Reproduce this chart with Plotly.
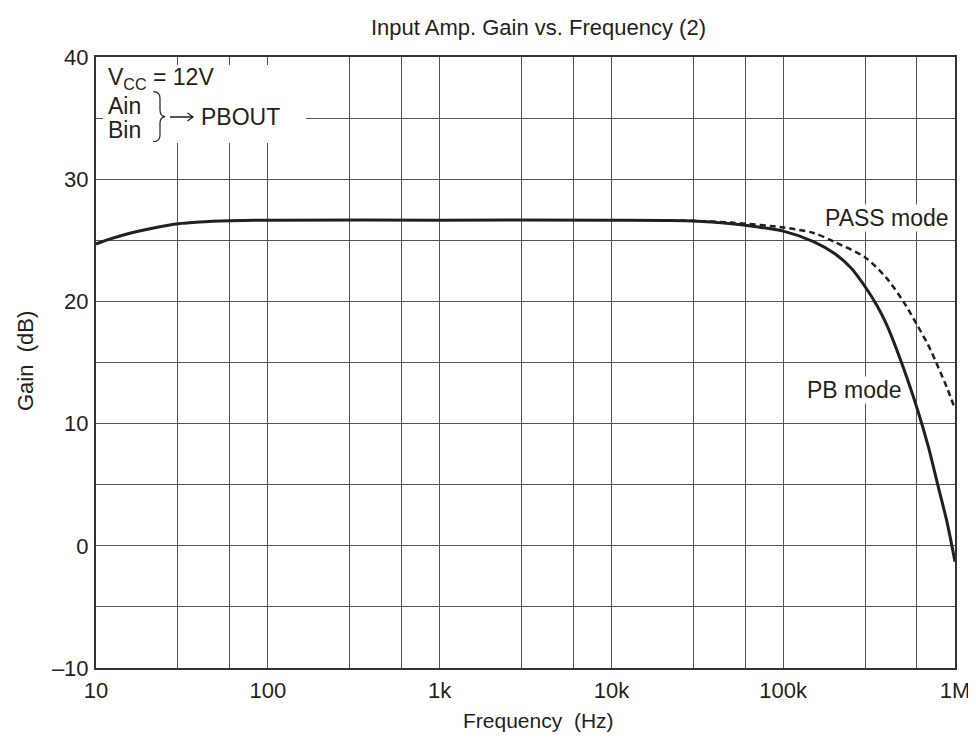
import plotly.graph_objects as go

# ---- data ----
freq_pb = [10, 12, 15, 20, 30, 40, 60, 100, 1000, 10000, 20000, 30000, 50000, 70000,
           100000, 150000, 200000, 250000, 300000, 350000, 400000, 500000, 600000,
           700000, 800000, 900000, 1000000]
gain_pb = [24.7, 25.1, 25.5, 25.9, 26.35, 26.5, 26.6, 26.65, 26.65, 26.65, 26.62, 26.58,
           26.35, 26.1, 25.75, 24.9, 23.9, 22.7, 21.2, 19.7, 18.1, 14.6, 11.3,
           8.1, 4.8, 1.9, -1.3]

freq_pass = [25000, 50000, 100000, 150000, 200000, 300000, 400000, 500000, 600000,
             700000, 800000, 900000, 1000000]
gain_pass = [26.62, 26.45, 26.05, 25.6, 24.85, 23.6, 21.9, 20.0, 18.1, 16.4, 14.6,
             12.9, 11.2]

x_tickvals = [10, 100, 1e3, 1e4, 1e5, 1e6]
x_ticktext = ["10", "100", "1k", "10k", "100k", "1M"]
x_minorvals = [30, 60, 300, 600, 3e3, 6e3, 3e4, 6e4, 3e5, 6e5]
y_tickvals = [-10, 0, 10, 20, 30, 40]
y_ticktext = ["\u201310", "0", "10", "20", "30", "40"]
y_minorvals = [-5, 5, 15, 25, 35]

# ---- layout geometry (page has an 8px body margin) ----
OFF = 8
W, H = 976 - OFF, 742 - 2 * OFF
PL, PR, PT, PB_ = 96, 955, 57, 668          # plot box in screen pixels
L, R, T, B = PL - OFF, OFF + W - PR, PT - OFF, OFF + H - PB_
PW, PH = PR - PL, PB_ - PT

def dx(px):
    return (px - PL) / PW

def dy(py):
    return (PB_ - py) / PH

INK = "#231f20"
GRID = "#555555"
FONT = "Liberation Sans, Arial, Helvetica, sans-serif"

fig = go.Figure()
fig.add_trace(go.Scatter(x=freq_pass, y=gain_pass, mode="lines",
                         line=dict(color=INK, width=2.5, dash="6px,4px", shape="spline", smoothing=0.8),
                         name="PASS mode", hoverinfo="skip"))
fig.add_trace(go.Scatter(x=freq_pb, y=gain_pb, mode="lines",
                         line=dict(color=INK, width=3, shape="spline", smoothing=0.8),
                         name="PB mode", hoverinfo="skip"))

axis_common = dict(showline=True, linecolor="#333333", linewidth=2, mirror=True,
                   showgrid=True, gridcolor=GRID, gridwidth=1, ticks="",
                   zeroline=False, ticklabeloverflow="allow", automargin=False,
                   tickfont=dict(size=22, color=INK, family=FONT))

fig.update_xaxes(type="log", range=[1, 6], tickmode="array", tickvals=x_tickvals,
                 ticktext=x_ticktext, ticklabelstandoff=2,
                 minor=dict(tickmode="array", tickvals=x_minorvals, showgrid=True,
                            gridcolor=GRID, gridwidth=1, ticks=""),
                 **axis_common)
fig.update_yaxes(range=[-10, 40], tickmode="array", tickvals=y_tickvals,
                 ticktext=y_ticktext, ticklabelstandoff=1,
                 minor=dict(tickmode="array", tickvals=y_minorvals, showgrid=True,
                            gridcolor=GRID, gridwidth=1, ticks=""),
                 **axis_common)

# white box behind the condition text
fig.add_shape(type="rect", xref="x domain", yref="y domain",
              x0=dx(103), x1=dx(306), y0=dy(143), y1=dy(65),
              fillcolor="white", line=dict(width=0), layer="above")

# brace
brace = "M {},{} Q {},{} {},{} L {},{} Q {},{} {},{} Q {},{} {},{} L {},{} Q {},{} {},{}".format(
    dx(153.3), dy(91.7), dx(160), dy(92), dx(160), dy(98), dx(160), dy(110),
    dx(160), dy(116), dx(165), dy(116.7), dx(160), dy(117.5), dx(160), dy(123),
    dx(160), dy(135), dx(160), dy(141.5), dx(153.3), dy(141.7))
fig.add_shape(type="path", xref="x domain", yref="y domain", path=brace,
              line=dict(color=INK, width=1.2), layer="above")

# arrow
arrow = "M {},{} L {},{} M {},{} L {},{} L {},{}".format(
    dx(170), dy(117), dx(193), dy(117),
    dx(187.5), dy(113), dx(193), dy(117), dx(187.5), dy(121))
fig.add_shape(type="path", xref="x domain", yref="y domain", path=arrow,
              line=dict(color=INK, width=1.3), layer="above")

ann_font = dict(size=23, color=INK, family=FONT)
fig.add_annotation(text="V<sub>CC</sub> = 12V", xref="x domain", yref="y domain",
                   x=dx(106), y=dy(79), xanchor="left", yanchor="middle",
                   showarrow=False, font=ann_font)
fig.add_annotation(text="Ain", xref="x domain", yref="y domain",
                   x=dx(106), y=dy(106), xanchor="left", yanchor="middle",
                   showarrow=False, font=ann_font)
fig.add_annotation(text="Bin", xref="x domain", yref="y domain",
                   x=dx(106), y=dy(130), xanchor="left", yanchor="middle",
                   showarrow=False, font=ann_font)
fig.add_annotation(text="PBOUT", xref="x domain", yref="y domain",
                   x=dx(199), y=dy(117), xanchor="left", yanchor="middle",
                   showarrow=False, font=ann_font)

fig.add_annotation(text="PASS mode", xref="x domain", yref="y domain",
                   x=dx(950), y=dy(218), xanchor="right", yanchor="middle",
                   showarrow=False, font=ann_font, bgcolor="white", borderpad=0)
fig.add_annotation(text="PB mode", xref="x domain", yref="y domain",
                   x=dx(903), y=dy(390), xanchor="right", yanchor="middle",
                   showarrow=False, font=ann_font, bgcolor="white", borderpad=0)

# axis titles
fig.add_annotation(text="Frequency\u00a0 (Hz)", xref="paper", yref="paper",
                   x=dx(538), y=0, yanchor="middle", yshift=-(720 - PB_),
                   showarrow=False, font=dict(size=21, color=INK, family=FONT))
fig.add_annotation(text="Gain\u00a0 (dB)", xref="paper", yref="paper",
                   x=0, y=dy(361), xanchor="center", yanchor="middle", xshift=-(PL - 25),
                   textangle=-90, showarrow=False, font=dict(size=22, color=INK, family=FONT))

fig.update_layout(
    width=W, height=H, margin=dict(l=L, r=R, t=T, b=B, pad=0, autoexpand=False),
    paper_bgcolor="white", plot_bgcolor="white", showlegend=False,
    title=dict(text="Input Amp. Gain vs. Frequency (2)", xref="paper", x=dx(538.5),
               xanchor="center", yref="container", y=(H - (27 - OFF)) / H, yanchor="middle",
               font=dict(size=22, color=INK, family=FONT)),
    font=dict(family=FONT, color=INK),
)

fig.write_html("out.html")
